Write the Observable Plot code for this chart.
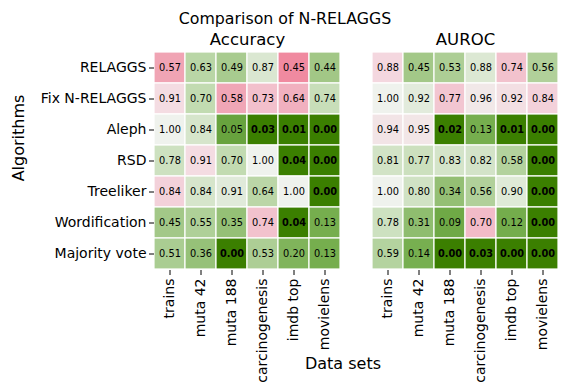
<!DOCTYPE html>
<html><head><meta charset="utf-8">
<script src="https://cdn.jsdelivr.net/npm/d3@7"></script>
<script src="https://cdn.jsdelivr.net/npm/@observablehq/plot@0.6"></script>
<style>
body{margin:0;background:#fff;}
#wrap{position:relative;width:570px;height:392px;font-family:"DejaVu Sans",sans-serif;color:#000;}
.lbl{position:absolute;white-space:nowrap;line-height:1;}
</style></head><body>
<div id="wrap"></div>
<script>
const algorithms = ["RELAGGS","Fix N-RELAGGS","Aleph","RSD","Treeliker","Wordification","Majority vote"];
const datasets = ["trains","muta 42","muta 188","carcinogenesis","imdb top","movielens"];
const metrics = ["Accuracy","AUROC"];
const accuracyP = [
 [0.57,0.63,0.49,0.87,0.45,0.44],
 [0.91,0.70,0.58,0.73,0.64,0.74],
 [1.00,0.84,0.05,0.03,0.01,0.00],
 [0.78,0.91,0.70,1.00,0.04,0.00],
 [0.84,0.84,0.91,0.64,1.00,0.00],
 [0.45,0.55,0.35,0.74,0.04,0.13],
 [0.51,0.36,0.00,0.53,0.20,0.13]];
const accuracySign = [
 [-1,1,1,1,-1,1],
 [-1,1,-1,-1,-1,1],
 [1,1,1,1,1,1],
 [1,-1,1,-1,1,1],
 [-1,1,1,1,1,1],
 [1,1,1,-1,1,1],
 [1,1,1,1,1,1]];
const aurocP = [
 [0.88,0.45,0.53,0.88,0.74,0.56],
 [1.00,0.92,0.77,0.96,0.92,0.84],
 [0.94,0.95,0.02,0.13,0.01,0.00],
 [0.81,0.77,0.83,0.82,0.58,0.00],
 [1.00,0.80,0.34,0.56,0.90,0.00],
 [0.78,0.31,0.09,0.70,0.12,0.00],
 [0.59,0.14,0.00,0.03,0.00,0.00]];
const aurocSign = [
 [-1,1,1,1,-1,1],
 [1,1,-1,-1,-1,-1],
 [-1,-1,1,1,1,1],
 [1,1,1,1,1,1],
 [1,1,1,1,1,1],
 [1,1,1,-1,1,1],
 [1,1,1,1,1,1]];

const rows = [];
[[metrics[0], accuracyP, accuracySign],[metrics[1], aurocP, aurocSign]].forEach(([metric, P, S]) => {
  algorithms.forEach((a, i) => datasets.forEach((d, j) => {
    const p = P[i][j], s = S[i][j];
    rows.push({metric, algorithm: a, dataset: d, p, v: s * (p < 0.05 ? 1 : 1 - p)});
  }));
});

const W = 570, H = 392;
const mL = 154, mR = 11, mT = 50, mB = 122;
const facetW = W - mL - mR;
const gap = 32;
const band = (facetW - gap) / 2;

const chart = Plot.plot({
  width: W, height: H,
  marginLeft: mL, marginRight: mR, marginTop: mT, marginBottom: mB,
  style: {fontFamily: '"DejaVu Sans", sans-serif', color: "#000", background: "transparent"},
  fx: {domain: metrics, paddingInner: gap / (band + gap), paddingOuter: 0, label: null},
  x: {domain: datasets, padding: 0, label: null},
  y: {domain: algorithms, padding: 0, label: null},
  color: {
    type: "linear",
    domain: [-1, -0.55, -0.43, -0.27, -0.1, 0, 0.13, 0.3, 0.55, 0.87, 0.95, 1],
    range: ["#e0507a", "#f08aa0", "#f0a4b4", "#f2c0cc", "#f4dae1", "#eff2ed", "#dae7d1", "#c2dbb1", "#a3c888", "#76ae4e", "#68a33e", "#3b7f00"],
    interpolate: "rgb", clamp: true
  },
  marks: [
    Plot.cell(rows, {fx: "metric", x: "dataset", y: "algorithm", fill: "v", stroke: "white", strokeWidth: 1.2}),
    Plot.text(rows, {fx: "metric", x: "dataset", y: "algorithm", text: d => d.p.toFixed(2),
      filter: d => d.p >= 0.05, fontSize: 9.8, fill: "#000"}),
    Plot.text(rows, {fx: "metric", x: "dataset", y: "algorithm", text: d => d.p.toFixed(2),
      filter: d => d.p < 0.05, fontSize: 9.8, fontWeight: "bold", fill: "#000"}),
    Plot.axisX({tickRotate: -90, tickSize: 5, tickPadding: 3, fontSize: 14, label: null}),
    Plot.axisY({tickSize: 5, tickPadding: 3, fontSize: 14, label: null}),
    Plot.axisFx({anchor: "top", tickSize: 0, tickPadding: 6, fontSize: 16.5, label: null})
  ]
});

const wrap = document.getElementById("wrap");
wrap.appendChild(chart);
chart.style.position = "absolute";
chart.style.left = "0px";
chart.style.top = "0px";

function addLabel(text, size, css) {
  const el = document.createElement("div");
  el.className = "lbl";
  el.textContent = text;
  el.style.fontSize = size + "px";
  Object.assign(el.style, css);
  wrap.appendChild(el);
  return el;
}
addLabel("Comparison of N-RELAGGS", 15.8, {left: "0px", width: W + "px", textAlign: "center", top: (24 - 0.846 * 15.8) + "px"});
addLabel("Algorithms", 16, {left: "18.5px", top: "138px", transform: "translate(-50%,-50%) rotate(-90deg)"});
addLabel("Data sets", 16, {left: "343px", top: (370 - 0.846 * 16) + "px", transform: "translateX(-50%)"});
</script>
</body></html>
